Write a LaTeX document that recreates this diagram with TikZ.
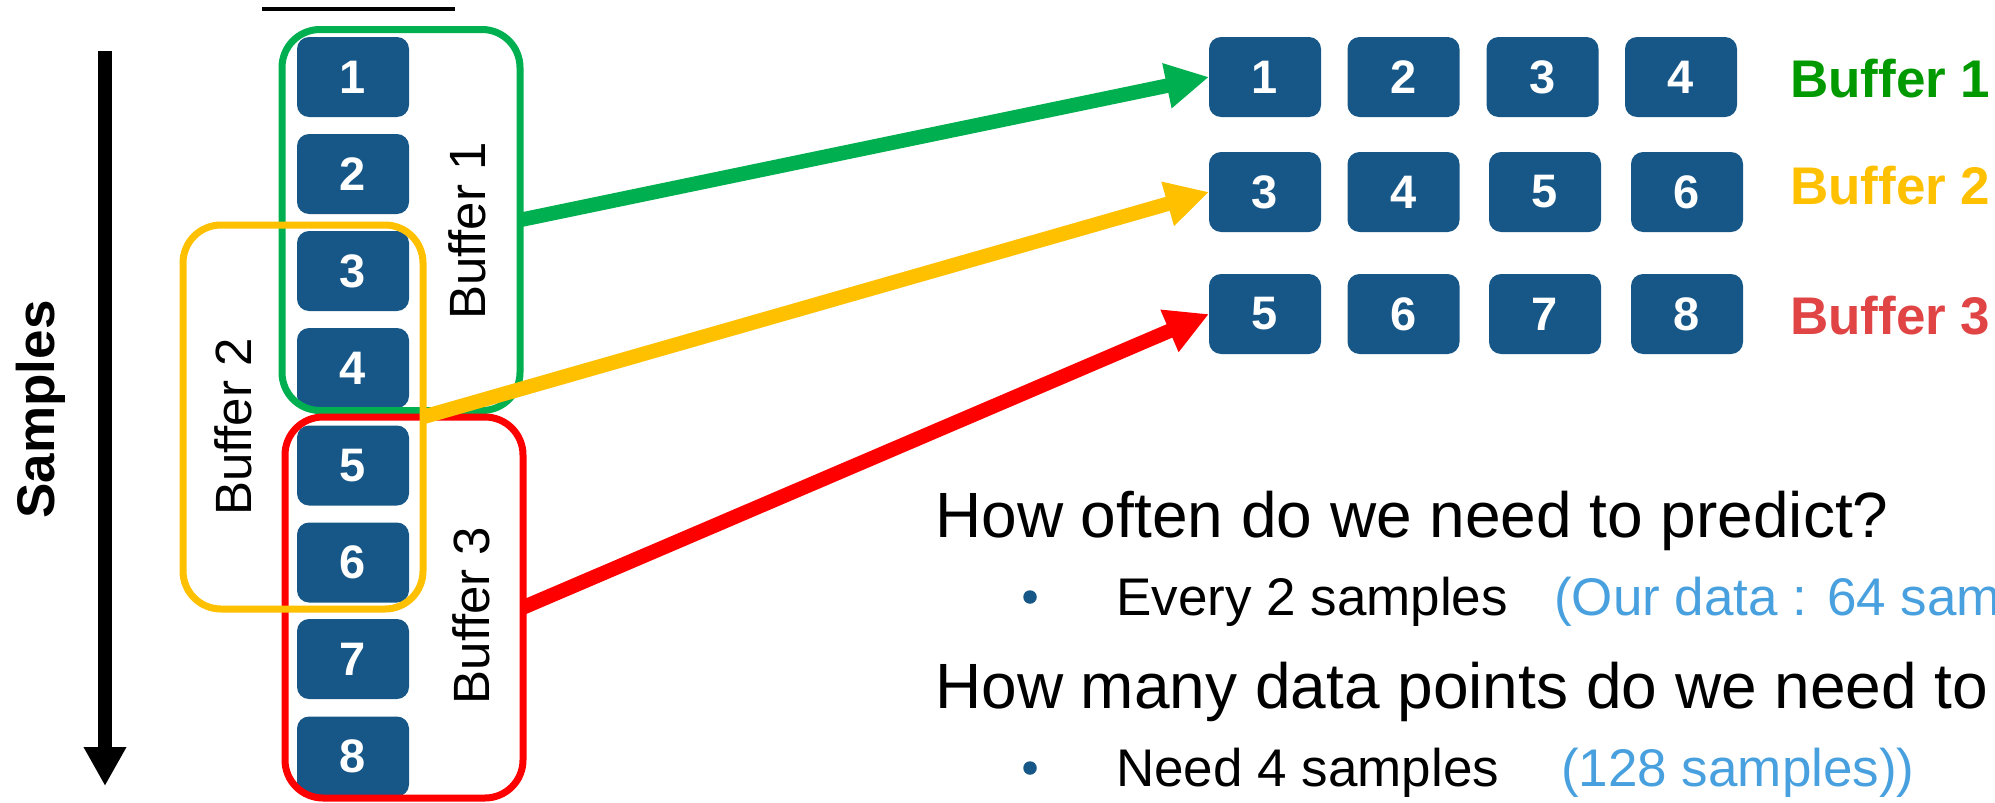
\documentclass[tikz,border=0pt]{standalone}
\usepackage{fontspec}
\setmainfont{Liberation Sans}
\usetikzlibrary{arrows.meta}
\definecolor{boxblue}{RGB}{22,87,136}
\definecolor{gframe}{RGB}{0,176,80}
\definecolor{yframe}{RGB}{255,192,0}
\definecolor{rframe}{RGB}{255,0,0}
\definecolor{glabel}{RGB}{0,153,0}
\definecolor{rlabel}{RGB}{224,68,68}
\definecolor{lightblue}{RGB}{72,160,222}
\tikzset{
  sbox/.style={rectangle, rounded corners=12pt, fill=boxblue, minimum width=112pt,
    minimum height=80pt, inner sep=0pt, outer sep=0pt, text=white,
    font=\fontsize{47}{47}\selectfont\bfseries},
  frame/.style={rectangle, rounded corners=38pt, line width=7pt, inner sep=0pt, outer sep=0pt},
  conn/.style={line width=14.5pt, -{Triangle[length=43pt,width=43pt]}},
  vlabel/.style={rotate=90, anchor=base, inner sep=0pt, font=\fontsize{51}{51}\selectfont},
  rlab/.style={anchor=base west, inner sep=0pt, font=\fontsize{53}{53}\selectfont\bfseries},
  qtext/.style={anchor=base west, inner sep=0pt, font=\fontsize{64}{64}\selectfont},
  btext/.style={anchor=base west, inner sep=0pt, font=\fontsize{53}{53}\selectfont},
  bullet/.style={circle, fill=boxblue, minimum size=13.5pt, inner sep=0pt}
}
\begin{document}
\begin{tikzpicture}[x=1pt, y=-1pt]
\useasboundingbox (0,0) rectangle (1995,803);
\clip (0,0) rectangle (1995,803);
% top short line
\coordinate (tl1) at (262,9);
\coordinate (tl2) at (455,9);
\draw[line width=4pt] (tl1) -- (tl2);
% samples arrow
\coordinate (sa) at (105,51);
\coordinate (sb) at (105,786);
\draw[line width=14pt, -{Triangle[length=39pt,width=40pt]}] (sa) -- (sb);
\node[rotate=90, anchor=base, inner sep=0pt, font=\fontsize{53}{53}\selectfont\bfseries] (samples) at (54,409.5) {Samples};
% left column boxes
\node[sbox] (l1) at (353,77) {1};
\node[sbox] (l2) at (353,174) {2};
\node[sbox] (l3) at (353,271) {3};
\node[sbox] (l4) at (353,368) {4};
\node[sbox] (l5) at (353,465.5) {5};
\node[sbox] (l6) at (353,562.5) {6};
\node[sbox] (l7) at (353,659) {7};
\node[sbox] (l8) at (353,756.5) {8};
% frames
\node[frame, draw=gframe, minimum width=238pt, minimum height=381pt] (gbox) at (401,220) {};
\node[frame, draw=rframe, minimum width=238pt, minimum height=381pt] (rbox) at (404,607.5) {};
\node[frame, draw=yframe, minimum width=240pt, minimum height=384pt] (ybox) at (303,417) {};
% vertical labels
\node[vlabel] (b1v) at (485,231) {Buffer 1};
\node[vlabel] (b2v) at (251,427) {Buffer 2};
\node[vlabel] (b3v) at (489,615.5) {Buffer 3};
% right boxes
\node[sbox] (r11) at (1265,77) {1};
\node[sbox] (r12) at (1403.5,77) {2};
\node[sbox] (r13) at (1542.5,77) {3};
\node[sbox] (r14) at (1681,77) {4};
\node[sbox] (r21) at (1265,192) {3};
\node[sbox] (r22) at (1403.5,192) {4};
\node[sbox] (r23) at (1545,192) {5};
\node[sbox] (r24) at (1687,192) {6};
\node[sbox] (r31) at (1265,314) {5};
\node[sbox] (r32) at (1403.5,314) {6};
\node[sbox] (r33) at (1545,314) {7};
\node[sbox] (r34) at (1687,314) {8};
% right labels
\node[rlab, text=glabel] (rl1) at (1790,97) {Buffer 1};
\node[rlab, text=yframe] (rl2) at (1790,204) {Buffer 2};
\node[rlab, text=rlabel] (rl3) at (1790,334) {Buffer 3};
% connectors
\draw[conn, gframe] (gbox.east) -- (r11.west);
\draw[conn, yframe] (ybox.east) -- (r21.west);
\draw[conn, rframe] (rbox.east) -- (r31.west);
% questions
\node[qtext] (q1) at (935,537) {How often do we need to predict?};
\node[bullet] (bu1) at (1030,597) {};
\node[btext] (a1) at (1116,615) {Every 2 samples};
\node[btext, text=lightblue] (a1b) at (1554,615) {(Our data : 64 samples};
\node[qtext] (q2) at (935,708) {How many data points do we need to};
\node[bullet] (bu2) at (1030,768) {};
\node[btext] (a2) at (1116,786) {Need 4 samples};
\node[btext, text=lightblue] (a2b) at (1561,786) {(128 samples))};
\end{tikzpicture}
\end{document}
